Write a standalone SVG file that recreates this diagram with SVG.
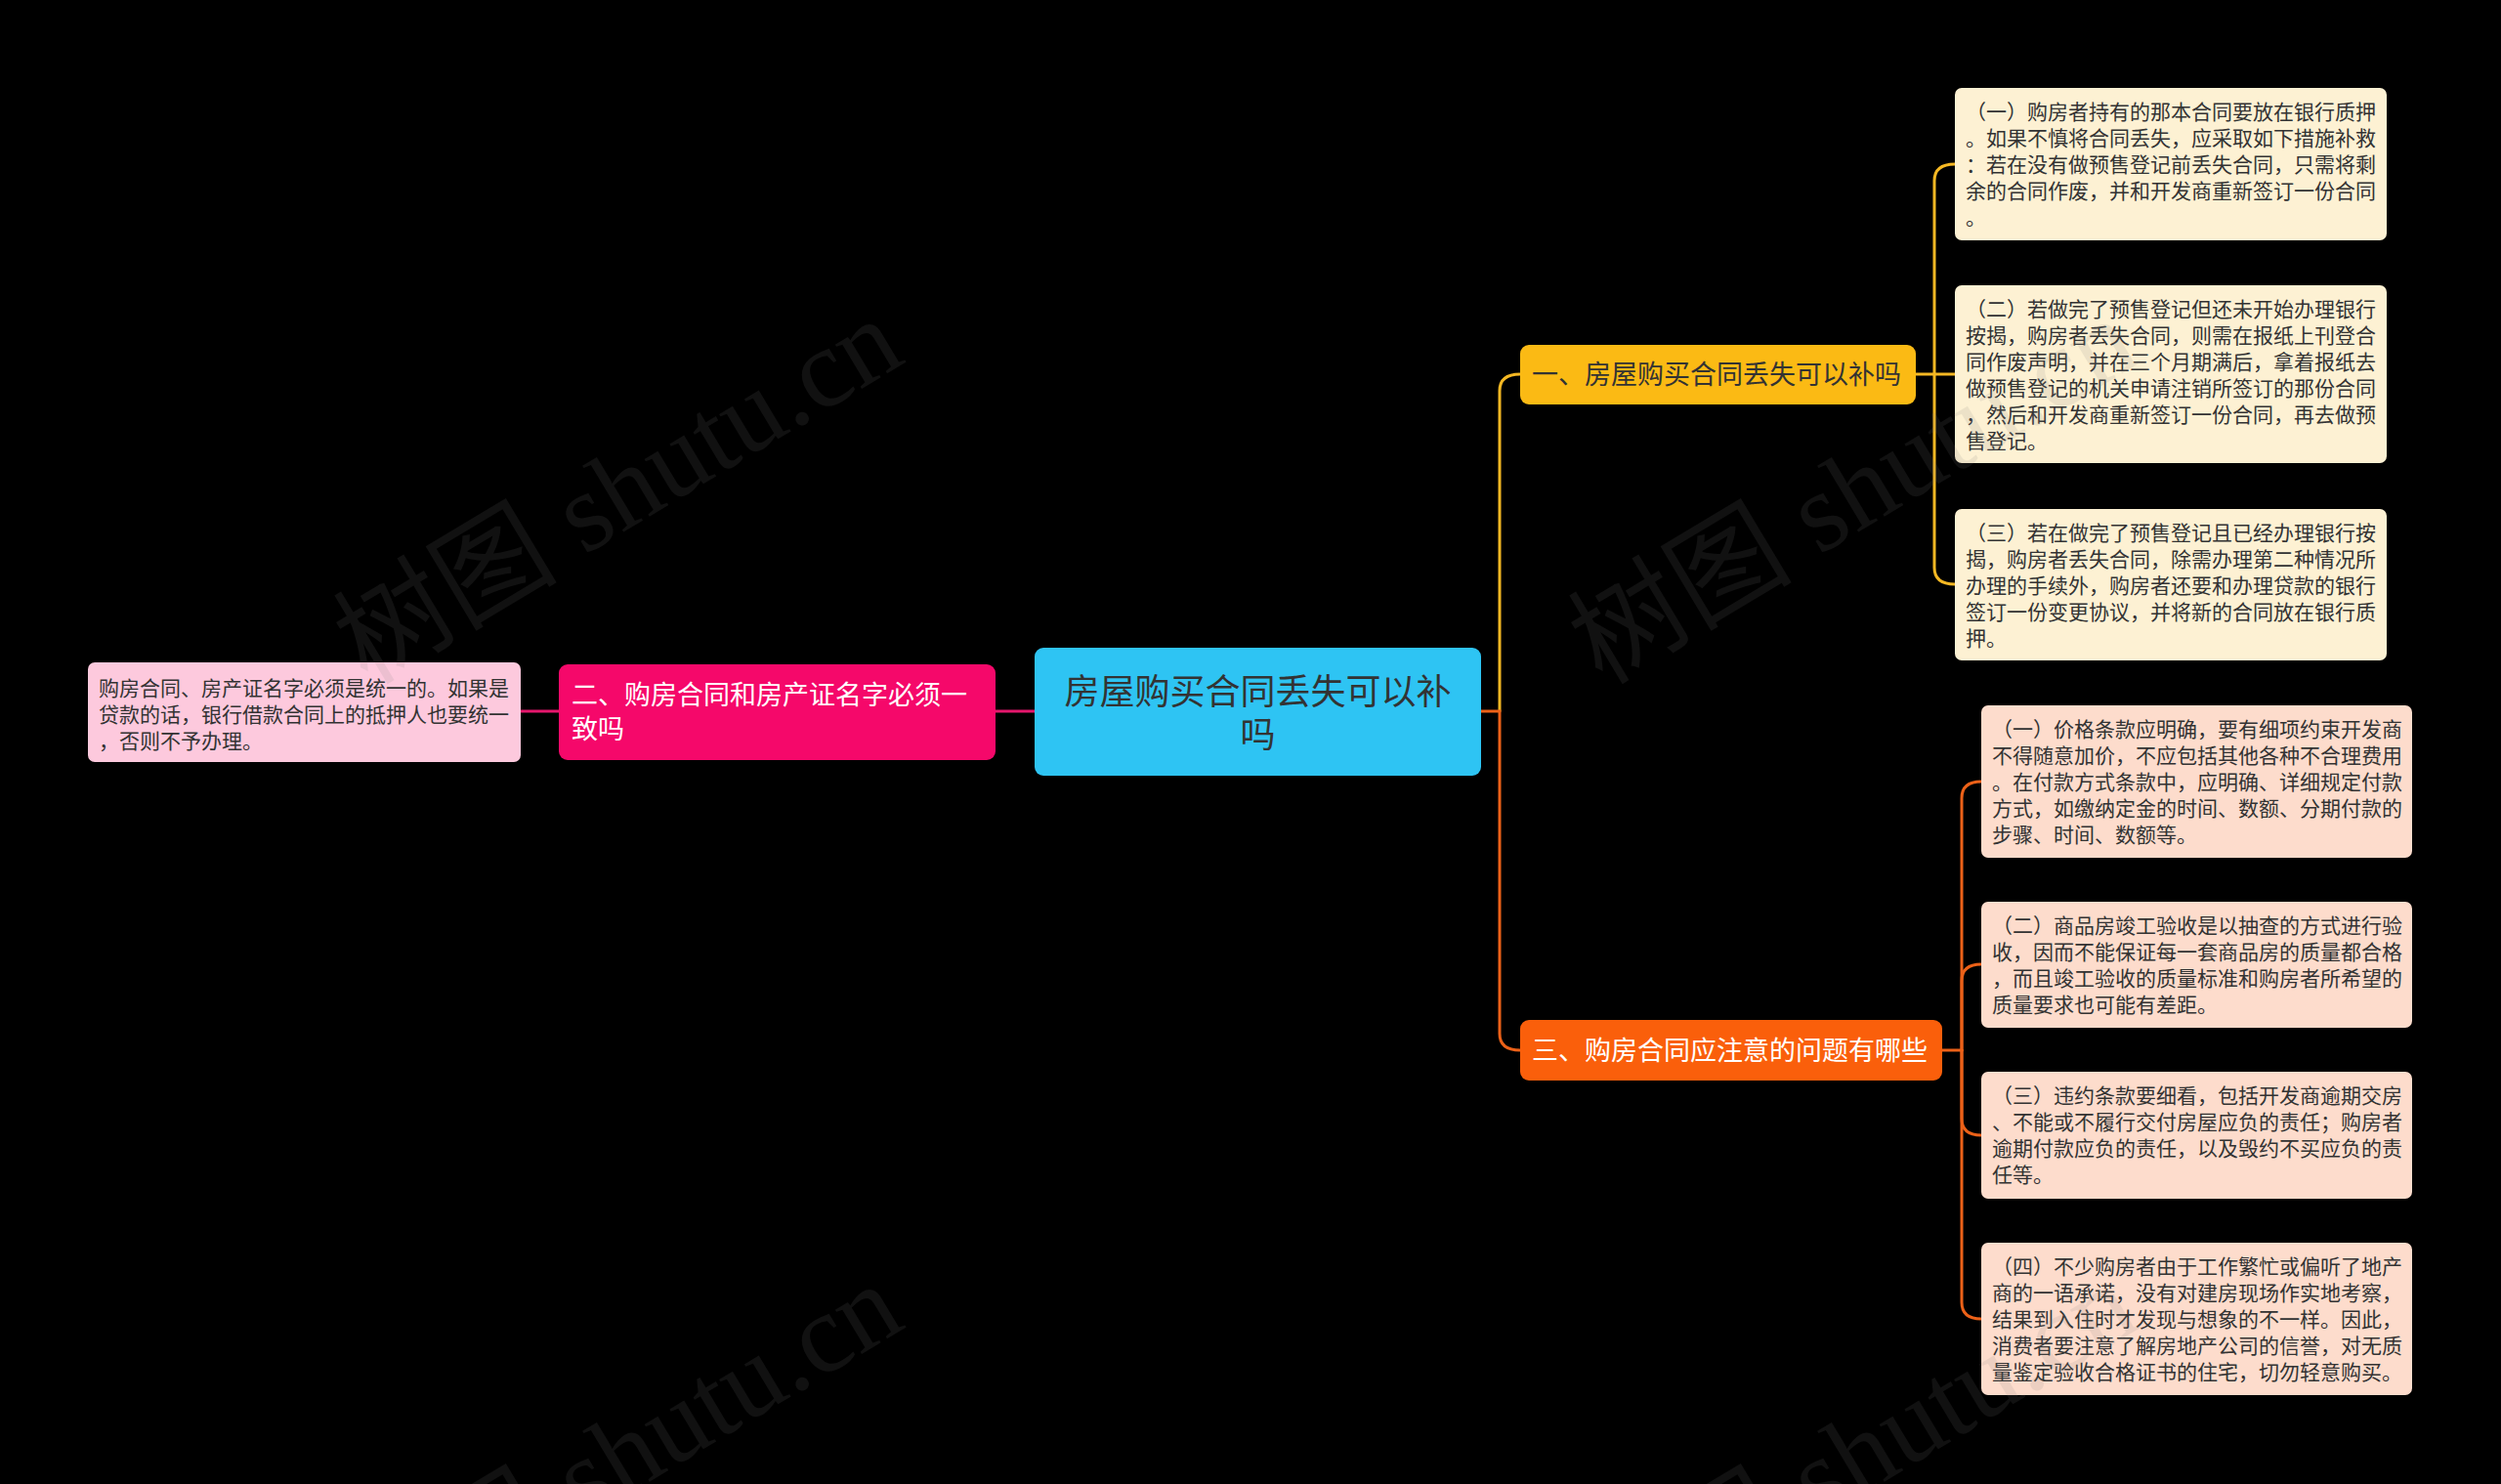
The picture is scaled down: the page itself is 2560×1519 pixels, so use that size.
<svg xmlns="http://www.w3.org/2000/svg" width="2560" height="1519" viewBox="0 0 2560 1519">
<style>
text{font-family:"Noto Sans CJK SC","Noto Sans",sans-serif;}
.leaf{font-size:21px;fill:#333;}
.main{font-size:27px;}
.dark{fill:#333;}
.light{fill:#fff;}
.ln{fill:none;stroke-width:3;stroke-linecap:round;}
.ly{stroke:#F5B823;}
.lo{stroke:#EC6118;}
.lp{stroke:#E6176D;}
.wm{font-family:"Liberation Serif","Noto Sans CJK SC",serif;font-size:115px;fill:#808080;opacity:0.13;}
</style>
<rect x="0" y="0" width="2560" height="1519" fill="#000"/>
<g id="connectors">
<path class="ln ly" d="M1535,728 V400 Q1535,383 1556,383"/>
<path class="ln lo" d="M1516,728 H1535 V1058 Q1535,1075 1556,1075"/>
<path class="ln lp" d="M1059,728 H1019"/>
<path class="ln lp" d="M572,728 H533"/>
<path class="ln ly" d="M1961,383 H2001"/>
<path class="ln ly" d="M1980,383 V185 Q1980,168 2001,168"/>
<path class="ln ly" d="M1980,383 V581 Q1980,598 2001,598"/>
<path class="ln lo" d="M1988,1075 H2008"/>
<path class="ln lo" d="M2008,1075 V817 Q2008,800 2028,800"/>
<path class="ln lo" d="M2008,1075 V1004 Q2008,987 2028,987"/>
<path class="ln lo" d="M2008,1075 V1145 Q2008,1162 2028,1162"/>
<path class="ln lo" d="M2008,1075 V1333 Q2008,1350 2028,1350"/>
</g>
<g id="root">
<rect x="1059" y="663" width="457" height="131" rx="9" fill="#2EC4F3"/>
<text x="1287.5" y="721" text-anchor="middle" style="font-size:36px" class="dark">房屋购买合同丢失可以补</text>
<text x="1287.5" y="765" text-anchor="middle" style="font-size:36px" class="dark">吗</text>
</g>
<g id="n1">
<rect x="1556" y="353" width="405" height="61" rx="9" fill="#FBBA14"/>
<text x="1568" y="393" class="main dark">一、房屋购买合同丢失可以补吗</text>
</g>
<g id="n2">
<rect x="572" y="680" width="447" height="98" rx="9" fill="#F5086A"/>
<text x="585" y="721" class="main light">二、购房合同和房产证名字必须一</text>
<text x="585" y="756" class="main light">致吗</text>
</g>
<g id="n3">
<rect x="1556" y="1044" width="432" height="62" rx="9" fill="#FA5F0B"/>
<text x="1568" y="1085" class="main light">三、购房合同应注意的问题有哪些</text>
</g>
<g id="n1a">
<rect x="2001" y="90" width="442" height="156" rx="7" fill="#FDF1D3"/>
<text class="leaf" x="2012" y="122">（一）购房者持有的那本合同要放在银行质押</text>
<text class="leaf" x="2012" y="149">。如果不慎将合同丢失，应采取如下措施补救</text>
<text class="leaf" x="2012" y="176">：若在没有做预售登记前丢失合同，只需将剩</text>
<text class="leaf" x="2012" y="203">余的合同作废，并和开发商重新签订一份合同</text>
<text class="leaf" x="2012" y="230">。</text>
</g>
<g id="n1b">
<rect x="2001" y="292" width="442" height="182" rx="7" fill="#FDF1D3"/>
<text class="leaf" x="2012" y="324">（二）若做完了预售登记但还未开始办理银行</text>
<text class="leaf" x="2012" y="351">按揭，购房者丢失合同，则需在报纸上刊登合</text>
<text class="leaf" x="2012" y="378">同作废声明，并在三个月期满后，拿着报纸去</text>
<text class="leaf" x="2012" y="405">做预售登记的机关申请注销所签订的那份合同</text>
<text class="leaf" x="2012" y="432">，然后和开发商重新签订一份合同，再去做预</text>
<text class="leaf" x="2012" y="459">售登记。</text>
</g>
<g id="n1c">
<rect x="2001" y="521" width="442" height="155" rx="7" fill="#FDF1D3"/>
<text class="leaf" x="2012" y="553">（三）若在做完了预售登记且已经办理银行按</text>
<text class="leaf" x="2012" y="580">揭，购房者丢失合同，除需办理第二种情况所</text>
<text class="leaf" x="2012" y="607">办理的手续外，购房者还要和办理贷款的银行</text>
<text class="leaf" x="2012" y="634">签订一份变更协议，并将新的合同放在银行质</text>
<text class="leaf" x="2012" y="661">押。</text>
</g>
<g id="n2a">
<rect x="90" y="678" width="443" height="102" rx="7" fill="#FDC9DD"/>
<text class="leaf" x="101" y="712">购房合同、房产证名字必须是统一的。如果是</text>
<text class="leaf" x="101" y="739">贷款的话，银行借款合同上的抵押人也要统一</text>
<text class="leaf" x="101" y="766">，否则不予办理。</text>
</g>
<g id="n3a">
<rect x="2028" y="722" width="441" height="156" rx="7" fill="#FDDCCC"/>
<text class="leaf" x="2039" y="754">（一）价格条款应明确，要有细项约束开发商</text>
<text class="leaf" x="2039" y="781">不得随意加价，不应包括其他各种不合理费用</text>
<text class="leaf" x="2039" y="808">。在付款方式条款中，应明确、详细规定付款</text>
<text class="leaf" x="2039" y="835">方式，如缴纳定金的时间、数额、分期付款的</text>
<text class="leaf" x="2039" y="862">步骤、时间、数额等。</text>
</g>
<g id="n3b">
<rect x="2028" y="923" width="441" height="129" rx="7" fill="#FDDCCC"/>
<text class="leaf" x="2039" y="955">（二）商品房竣工验收是以抽查的方式进行验</text>
<text class="leaf" x="2039" y="982">收，因而不能保证每一套商品房的质量都合格</text>
<text class="leaf" x="2039" y="1009">，而且竣工验收的质量标准和购房者所希望的</text>
<text class="leaf" x="2039" y="1036">质量要求也可能有差距。</text>
</g>
<g id="n3c">
<rect x="2028" y="1097" width="441" height="130" rx="7" fill="#FDDCCC"/>
<text class="leaf" x="2039" y="1129">（三）违约条款要细看，包括开发商逾期交房</text>
<text class="leaf" x="2039" y="1156">、不能或不履行交付房屋应负的责任；购房者</text>
<text class="leaf" x="2039" y="1183">逾期付款应负的责任，以及毁约不买应负的责</text>
<text class="leaf" x="2039" y="1210">任等。</text>
</g>
<g id="n3d">
<rect x="2028" y="1272" width="441" height="156" rx="7" fill="#FDDCCC"/>
<text class="leaf" x="2039" y="1304">（四）不少购房者由于工作繁忙或偏听了地产</text>
<text class="leaf" x="2039" y="1331">商的一语承诺，没有对建房现场作实地考察，</text>
<text class="leaf" x="2039" y="1358">结果到入住时才发现与想象的不一样。因此，</text>
<text class="leaf" x="2039" y="1385">消费者要注意了解房地产公司的信誉，对无质</text>
<text class="leaf" x="2039" y="1412">量鉴定验收合格证书的住宅，切勿轻意购买。</text>
</g>
<g id="watermarks">
<text class="wm" transform="translate(376,702) rotate(-31)">树图 shutu.cn</text>
<text class="wm" transform="translate(1640,702) rotate(-31)">树图 shutu.cn</text>
<text class="wm" transform="translate(376,1690) rotate(-31)">树图 shutu.cn</text>
<text class="wm" transform="translate(1640,1690) rotate(-31)">树图 shutu.cn</text>
</g>
</svg>
